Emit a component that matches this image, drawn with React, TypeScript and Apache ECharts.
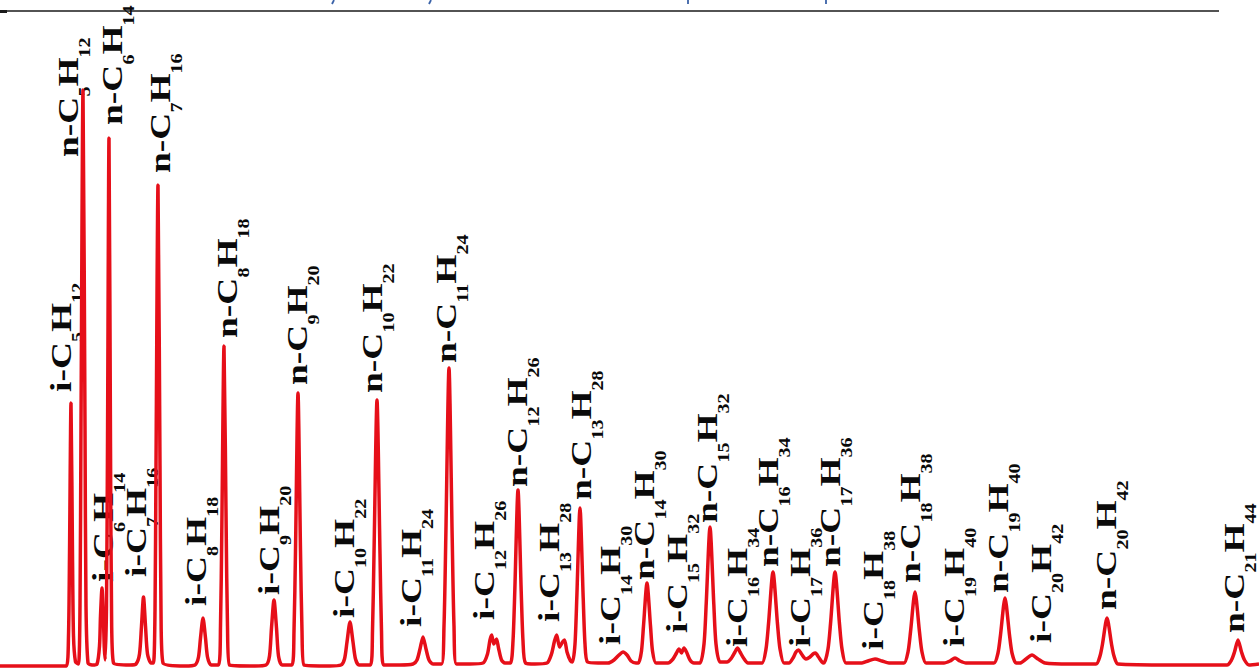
import React, { useEffect, useRef } from 'react';
import * as echarts from 'echarts';

// Chromatogram trace: [retention (arbitrary units), detector signal]
const trace: [number, number][] = [
  [0, 0], [60, 0],
  // i-C5H12
  [66.5, 0], [68.5, 30], [69.5, 110], [71, 263], [72.5, 110], [73.5, 30], [75.5, 4],
  // n-C5H12
  [78.5, 2], [80, 60], [81, 240], [83, 576], [85, 240], [86, 60], [88, 3],
  [92, 1],
  // i-C6H14
  [97, 2], [99.5, 20], [100.5, 50], [102, 78], [103.5, 45], [104.3, 18],
  // n-C6H14
  [105.2, 6], [106.5, 60], [107.5, 220], [109, 528], [110.5, 220], [111.5, 60], [113.5, 3],
  [130, 1],
  // i-C7H16
  [136, 2], [139.5, 12], [141.5, 40], [143.5, 69], [145.5, 40], [147.5, 12], [151, 3],
  // n-C7H16
  [153.5, 3], [155, 55], [156, 200], [158, 481], [160, 200], [161, 55], [163, 3],
  [185, 0],
  // i-C8H18
  [195, 1], [198.5, 9], [200.5, 28], [203, 48], [205.5, 28], [207.5, 9], [211, 1],
  // n-C8H18
  [218.5, 1], [220.5, 40], [221.8, 135], [224, 320], [226.2, 135], [227.5, 40], [229.5, 1],
  [255, 0],
  // i-C9H20
  [266, 1], [269.5, 10], [271.5, 38], [274, 66], [276.5, 38], [278.5, 10], [282, 1],
  // n-C9H20
  [292, 1], [294, 35], [295.5, 115], [298, 273], [300.5, 115], [302, 35], [304, 1],
  [330, 0],
  // i-C10H22
  [341, 1], [344.5, 7], [347, 24], [350, 44], [353, 24], [355.5, 7], [359, 1],
  // n-C10H22
  [370.5, 1], [372.5, 35], [374, 112], [377, 266], [380, 112], [381.5, 35], [383.5, 1],
  [400, 1],
  // i-C11H24
  [413, 2], [417, 6], [420, 17], [423, 29], [426, 17], [429, 6], [433, 2],
  // n-C11H24
  [441.5, 2], [444, 40], [445.8, 128], [449, 298], [452.2, 128], [454, 40], [456.5, 2],
  [470, 2],
  // i-C12H26 (doublet)
  [483, 3], [487.5, 12], [490, 26], [491.7, 31], [493.8, 22], [496.5, 27], [498.5, 18], [501.5, 6], [505, 3],
  // n-C12H26
  [510.5, 3], [513, 25], [514.8, 75], [518, 176], [521.2, 75], [523, 25], [525.5, 3],
  [535, 2],
  // i-C13H28 (doublet)
  [547, 3], [551.5, 12], [554.5, 25], [556.7, 31], [559.5, 19], [562.5, 24], [564.5, 26], [567, 14], [570.5, 5],
  // n-C13H28
  [572.5, 4], [575, 22], [576.8, 68], [580, 158], [583.2, 68], [585, 22], [587.5, 4],
  [598, 3],
  // i-C14H30
  [608, 3], [614, 6], [619, 11], [623, 14], [627, 11], [631, 5], [636, 3],
  // n-C14H30
  [638.5, 3], [641.5, 15], [643.5, 40], [647, 83], [650.5, 40], [652.5, 15], [656, 3],
  [662, 3],
  // i-C15H32 (doublet)
  [668, 3], [673, 7], [676.5, 13], [679, 17], [681.5, 13], [684, 18], [686.5, 14], [690, 6], [694, 3],
  // n-C15H32
  [700, 3], [704, 22], [706.2, 62], [710, 139], [713.8, 62], [716, 22], [720, 4],
  // i-C16H34
  [727, 4], [731.5, 8], [735, 14], [737.5, 18], [740, 14], [743.5, 8], [748, 3],
  [755, 3],
  // n-C16H34
  [762, 3], [766, 17], [768.5, 42], [773, 94], [777.5, 42], [780, 17], [784, 3],
  // i-C17H36 (with shoulder)
  [789, 3], [793, 8], [796, 14], [798.5, 16], [801.5, 12], [806, 7], [810, 9], [813, 12], [815.5, 13], [818.5, 9], [822, 4],
  // n-C17H36
  [824, 3], [828, 17], [830.5, 42], [835, 94], [839.5, 42], [842, 17], [846, 3],
  [855, 3],
  // i-C18H38
  [862, 3], [868, 5], [875, 7], [882, 5], [889, 3],
  [896, 3],
  // n-C18H38
  [904, 3], [908, 14], [910.5, 34], [915, 74], [919.5, 34], [922, 14], [926, 3],
  [936, 3],
  // i-C19H40
  [944, 3], [950, 5], [955, 8], [960, 5], [966, 3],
  [984, 3],
  // n-C19H40
  [994, 3], [998, 13], [1000.5, 31], [1005, 68], [1009.5, 31], [1012, 13], [1016, 3],
  // i-C20H42
  [1020, 3], [1026, 7], [1032, 11], [1038, 7], [1045, 3],
  [1070, 2],
  // n-C20H42
  [1096, 2], [1100, 10], [1102.5, 22], [1107, 48], [1111.5, 22], [1114, 10], [1118, 2],
  [1170, 1],
  // n-C21H44
  [1227, 1], [1231.5, 6], [1234.5, 14], [1238, 26], [1241.5, 14], [1244.5, 6], [1249, 1],
  [1259, 2],
];

// Peak annotations
const peakLabels = [
  'i-C5H12', 'n-C5H12', 'i-C6H14', 'n-C6H14', 'i-C7H16', 'n-C7H16',
  'i-C8H18', 'n-C8H18', 'i-C9H20', 'n-C9H20', 'i-C10H22', 'n-C10H22',
  'i-C11H24', 'n-C11H24', 'i-C12H26', 'n-C12H26', 'i-C13H28', 'n-C13H28',
  'i-C14H30', 'n-C14H30', 'i-C15H32', 'n-C15H32', 'i-C16H34', 'n-C16H34',
  'i-C17H36', 'n-C17H36', 'i-C18H38', 'n-C18H38', 'i-C19H40', 'n-C19H40',
  'i-C20H42', 'n-C20H42', 'n-C21H44',
];
// label anchor (x = glyph centre line, y = start of the rotated text), in data units
const labelX = [
  61, 68, 103, 112, 136, 160,
  196, 227, 269, 297, 344, 372,
  411, 446, 484, 517, 549, 581,
  610, 644, 677, 707, 737, 768,
  800, 830, 873, 910, 954, 998,
  1041, 1106, 1234,
];
const labelY = [
  274, 509, 84, 541, 89, 493,
  60, 328, 71, 281, 48, 273,
  39, 303, 46, 179, 44, 166,
  21, 86, 33, 143, 19, 99,
  19, 99, 16, 83, 19, 73,
  23, 56, 33,
];

function toRich(name: string): string {
  const m = name.match(/^([in])-C(\d+)H(\d+)$/);
  if (!m) return name;
  return `{m|${m[1]}-C}{s|${m[2]}}{m|H}{s|${m[3]}}`;
}

const FONT = '"Liberation Serif", "Times New Roman", serif';

export default function App() {
  const ref = useRef<HTMLDivElement>(null);
  useEffect(() => {
    document.body.style.margin = '0';
    const chart = echarts.init(ref.current!, null, { renderer: 'svg' });
    const labelData = peakLabels.map((_, i) => [labelX[i], labelY[i], i]);
    chart.setOption({
      animation: false,
      backgroundColor: '#ffffff',
      grid: { left: 0, right: 0, top: 66, bottom: 5 },
      xAxis: { type: 'value', min: 0, max: 1259, show: false },
      yAxis: { type: 'value', min: 0, max: 600, show: false },
      series: [
        {
          type: 'custom',
          z: 1,
          clip: false,
          silent: true,
          data: labelData,
          renderItem: (params: any, api: any) => {
            const p = api.coord([api.value(0), api.value(1)]);
            const idx = api.value(2);
            return {
              type: 'text',
              x: p[0],
              y: p[1],
              rotation: Math.PI / 2,
              scaleX: 1.25,
              style: {
                text: toRich(peakLabels[idx]),
                x: 0,
                y: -15,
                align: 'left',
                verticalAlign: 'top',
                fill: '#0a0a0a',
                rich: {
                  m: {
                    fontSize: 30,
                    lineHeight: 30,
                    fontWeight: 'bold',
                    fontFamily: FONT,
                    verticalAlign: 'top',
                    fill: '#0a0a0a',
                  },
                  s: {
                    fontSize: 16,
                    fontWeight: 'bold',
                    fontFamily: FONT,
                    verticalAlign: 'top',
                    padding: [24, 0, 0, 0],
                    fill: '#0a0a0a',
                  },
                },
              },
            };
          },
        },
        {
          type: 'line',
          z: 2,
          data: trace,
          symbol: 'none',
          showSymbol: false,
          smooth: 0.25,
          clip: false,
          silent: true,
          lineStyle: { color: '#e60f19', width: 3.5 },
        },
      ],
      graphic: [
        { type: 'line', shape: { x1: 0, y1: 11, x2: 1219, y2: 11 }, style: { stroke: '#1a1a1a', lineWidth: 1.5 } },
        { type: 'rect', shape: { x: 0, y: 10, width: 7, height: 3 }, style: { fill: '#1a1a1a' } },
        { type: 'line', shape: { x1: 334, y1: 0, x2: 332, y2: 4 }, style: { stroke: '#3a62a8', lineWidth: 1.8 } },
        { type: 'line', shape: { x1: 431, y1: 0, x2: 429, y2: 4 }, style: { stroke: '#3a62a8', lineWidth: 1.8 } },
        { type: 'line', shape: { x1: 688, y1: 0, x2: 688, y2: 4 }, style: { stroke: '#3a62a8', lineWidth: 1.8 } },
        { type: 'line', shape: { x1: 826, y1: 0, x2: 826, y2: 4 }, style: { stroke: '#3a62a8', lineWidth: 1.8 } },
      ],
    });
    return () => chart.dispose();
  }, []);
  return (
    <div
      ref={ref}
      style={{ position: 'absolute', left: 0, top: 0, width: 1259, height: 671 }}
    />
  );
}
